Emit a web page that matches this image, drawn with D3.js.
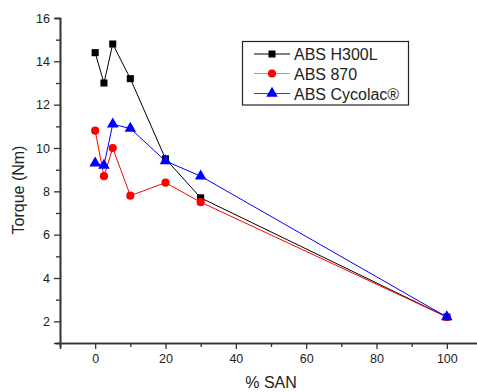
<!DOCTYPE html>
<html>
<head>
<meta charset="utf-8">
<script src="https://cdn.jsdelivr.net/npm/d3@7"></script>
<style>
  html, body { margin: 0; padding: 0; background: #fff; }
  svg { display: block; }
  text { font-family: Arial, "Liberation Sans", sans-serif; fill: #222; }
</style>
</head>
<body>
<svg id="chart" width="477" height="392"></svg>
<script>
// SAN content (%) of each blend
const sanPercent = [0, 2.5, 5, 10, 20, 30, 100];

// Torque (Nm) for each ABS grade
const absH300L  = [14.4, 13.0, 14.8, 13.2, 9.5, 7.7, 2.2];
const abs870    = [10.8, 8.7, 10.0, 7.8, 8.4, 7.5, 2.2];
const absCycolac = [9.3, 9.2, 11.1, 10.9, 9.4, 8.7, 2.2];

const seriesNames = ["ABS H300L", "ABS 870", "ABS Cycolac\u00AE"];
const seriesColors = ["#000000", "#ff0000", "#0000ff"];
const seriesSymbols = [d3.symbolSquare, d3.symbolCircle, d3.symbolTriangle];
const symbolSizes = [50, 52, 58];

const xTicks = [0, 20, 40, 60, 80, 100];
const yTicks = [2, 4, 6, 8, 10, 12, 14, 16];

const svg = d3.select("#chart");
const plotLeft = 60, plotRight = 482, plotTop = 18, plotBottom = 343;

const x = d3.scaleLinear().domain([-10, 110]).range([plotLeft, plotRight]);
const y = d3.scaleLinear().domain([1, 16]).range([plotBottom, plotTop]);

const series = [absH300L, abs870, absCycolac].map((vals, i) => ({
  name: seriesNames[i],
  color: seriesColors[i],
  symbol: seriesSymbols[i],
  size: symbolSizes[i],
  points: sanPercent.map((s, j) => ({ x: s, y: vals[j] }))
}));

// Axes: major ticks with labels, minor ticks between
const axisColor = "#333";
const xAxis = d3.axisBottom(x).tickValues(xTicks).tickSize(6).tickPadding(5).tickFormat(d3.format("d"));
const xMinor = d3.axisBottom(x).tickValues(d3.range(-10, 111, 20)).tickSize(4).tickFormat("");
const yAxis = d3.axisLeft(y).tickValues(yTicks).tickSize(6).tickPadding(4).tickFormat(d3.format("d"));
const yMinor = d3.axisLeft(y).tickValues(d3.range(1, 16, 2)).tickSize(4).tickFormat("");

function styleAxis(g) {
  g.selectAll("path.domain").attr("stroke", axisColor).attr("stroke-width", 1.6);
  g.selectAll(".tick line").attr("stroke", axisColor).attr("stroke-width", 1.3);
  g.selectAll(".tick text").style("font-size", "12.5px").attr("fill", "#222")
    .style("font-family", "Arial, 'Liberation Sans', sans-serif");
}

svg.append("g").attr("transform", `translate(0,${plotBottom})`).call(xMinor).call(styleAxis);
svg.append("g").attr("transform", `translate(0,${plotBottom})`).call(xAxis).call(styleAxis);
svg.append("g").attr("transform", `translate(${plotLeft},0)`).call(yMinor).call(styleAxis);
svg.append("g").attr("transform", `translate(${plotLeft},0)`).call(yAxis).call(styleAxis);

// Axis titles
svg.append("text")
  .attr("x", 271).attr("y", 388)
  .attr("text-anchor", "middle")
  .style("font-size", "16px")
  .text("% SAN");

svg.append("text")
  .attr("transform", "translate(24,190) rotate(-90)")
  .attr("text-anchor", "middle")
  .style("font-size", "16px")
  .text("Torque (Nm)");

// Lines and markers
const line = d3.line().x(d => x(d.x)).y(d => y(d.y));

series.forEach(s => {
  svg.append("path")
    .datum(s.points)
    .attr("fill", "none")
    .attr("stroke", s.color)
    .attr("stroke-width", 1)
    .attr("d", line);
});

series.forEach(s => {
  svg.append("g").selectAll("path")
    .data(s.points)
    .join("path")
    .attr("transform", d => `translate(${x(d.x)},${y(d.y)})`)
    .attr("d", d3.symbol().type(s.symbol).size(s.size))
    .attr("fill", s.color);
});

// Legend
const legend = svg.append("g");
legend.append("rect")
  .attr("x", 242.5).attr("y", 41.5)
  .attr("width", 166).attr("height", 63.5)
  .attr("fill", "#fff").attr("stroke", "#222").attr("stroke-width", 1.2);

const rowY = [54, 73.5, 93.5];
const legendLineColors = ["#000000", "#ff7777", "#3333ff"];
series.forEach((s, i) => {
  const g = legend.append("g").attr("transform", `translate(0,${rowY[i]})`);
  g.append("line").attr("x1", 254).attr("x2", 290).attr("y1", 0).attr("y2", 0)
    .attr("stroke", legendLineColors[i]).attr("stroke-width", 1);
  g.append("path").attr("transform", "translate(272,0)")
    .attr("d", d3.symbol().type(s.symbol).size(s.size))
    .attr("fill", s.color);
  g.append("text").attr("x", 294).attr("y", 6)
    .style("font-size", "16px")
    .text(s.name);
});
</script>
</body>
</html>
